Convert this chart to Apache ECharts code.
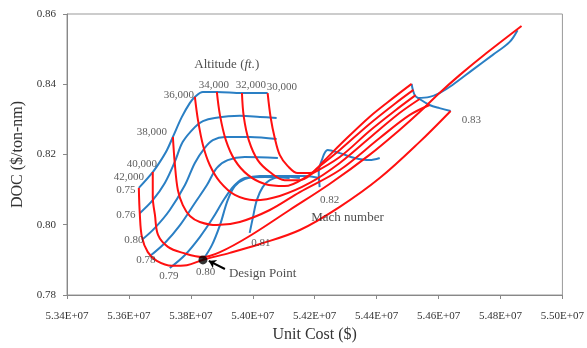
<!DOCTYPE html>
<html>
<head>
<meta charset="utf-8">
<script src="https://cdn.jsdelivr.net/npm/echarts@6/dist/echarts.min.js"></script>
<style>
  html, body { margin: 0; padding: 0; background: #fff; }
  #chart { width: 587px; height: 348px; }
</style>
</head>
<body>
<div id="chart"></div>
<script>
// Unit cost in units of 1e7 $, DOC in $/ton-nm

// Constant-Mach lines (blue), from 42,000 ft towards 30,000 ft
const mach075 = [[5.3632,0.8105],[5.3677,0.8150],[5.3700,0.8179],[5.3723,0.8213],[5.3742,0.8250],[5.3771,0.8307],[5.3797,0.8347],[5.3813,0.8364],[5.3839,0.8378],[5.3884,0.8378],[5.3965,0.8375],[5.4048,0.8375]];
const mach076 = [[5.3635,0.8033],[5.3677,0.8070],[5.3716,0.8119],[5.3748,0.8179],[5.3774,0.8236],[5.3813,0.8278],[5.3839,0.8295],[5.3877,0.8304],[5.3958,0.8310],[5.4023,0.8307],[5.4077,0.8304]];
const mach077 = [[5.3642,0.7957],[5.3684,0.7991],[5.3732,0.8042],[5.3781,0.8113],[5.3813,0.8176],[5.3845,0.8219],[5.3871,0.8241],[5.3910,0.8250],[5.3990,0.8250],[5.4077,0.8244]];
const mach078 = [[5.3668,0.7911],[5.3716,0.7948],[5.3765,0.7999],[5.3813,0.8062],[5.3852,0.8113],[5.3884,0.8162],[5.3919,0.8184],[5.3974,0.8193],[5.4081,0.8190]];
const mach079 = [[5.3732,0.7877],[5.3781,0.7914],[5.3829,0.7965],[5.3871,0.8019],[5.3910,0.8076],[5.3942,0.8113],[5.3974,0.8133],[5.4039,0.8136],[5.4119,0.8133]];
const mach080 = [[5.3839,0.7900],[5.3868,0.7942],[5.3894,0.7999],[5.3919,0.8070],[5.3942,0.8110],[5.3974,0.8130],[5.4023,0.8139],[5.4087,0.8139],[5.4152,0.8133]];
const mach081 = [[5.3990,0.7977],[5.4000,0.8019],[5.4013,0.8070],[5.4032,0.8107],[5.4055,0.8127],[5.4103,0.8139],[5.4168,0.8139],[5.4216,0.8133]];
const mach082 = [[5.4216,0.8107],[5.4213,0.8150],[5.4223,0.8184],[5.4242,0.8213],[5.4281,0.8204],[5.4329,0.8190],[5.4377,0.8184],[5.4410,0.8190]];
const mach083 = [[5.4513,0.8401],[5.4523,0.8369],[5.4539,0.8358],[5.4571,0.8341],[5.4603,0.8332],[5.4639,0.8324]];
const mach083b = [[5.4532,0.8361],[5.4571,0.8364],[5.4603,0.8375],[5.4645,0.8398],[5.4710,0.8441],[5.4774,0.8483],[5.4829,0.8520],[5.4855,0.8554]];

// Constant-altitude lines (red), Mach 0.75 upwards
const alt42 = [[5.3632,0.8105],[5.3635,0.8033],[5.3642,0.7965],[5.3661,0.7922],[5.3690,0.7897],[5.3739,0.7883],[5.3787,0.7885],[5.3839,0.7900],[5.3926,0.7920],[5.4023,0.7945],[5.4152,0.7985],[5.4281,0.8051],[5.4410,0.8133],[5.4539,0.8236],[5.4639,0.8324]];
const alt40 = [[5.3677,0.8150],[5.3677,0.8079],[5.3684,0.8028],[5.3694,0.7971],[5.3726,0.7937],[5.3774,0.7920],[5.3839,0.7908],[5.3894,0.7922],[5.3990,0.7968],[5.4119,0.8042],[5.4248,0.8116],[5.4377,0.8199],[5.4474,0.8270],[5.4539,0.8321],[5.4603,0.8375],[5.4668,0.8426],[5.4755,0.8489],[5.4868,0.8566]];
const alt38 = [[5.3742,0.8250],[5.3748,0.8176],[5.3758,0.8099],[5.3774,0.8056],[5.3797,0.8025],[5.3829,0.8008],[5.3884,0.7999],[5.3958,0.8008],[5.4055,0.8042],[5.4152,0.8093],[5.4281,0.8156],[5.4410,0.8247],[5.4506,0.8312],[5.4571,0.8341]];
const alt36 = [[5.3813,0.8364],[5.3823,0.8298],[5.3839,0.8227],[5.3861,0.8170],[5.3894,0.8122],[5.3942,0.8085],[5.4006,0.8070],[5.4087,0.8082],[5.4184,0.8119],[5.4281,0.8176],[5.4377,0.8247],[5.4474,0.8318],[5.4539,0.8358]];
const alt34 = [[5.3884,0.8378],[5.3894,0.8312],[5.3913,0.8241],[5.3942,0.8184],[5.3984,0.8142],[5.4039,0.8116],[5.4103,0.8110],[5.4184,0.8142],[5.4281,0.8193],[5.4377,0.8267],[5.4458,0.8324],[5.4526,0.8369]];
const alt32 = [[5.3965,0.8375],[5.3971,0.8307],[5.3987,0.8241],[5.4016,0.8184],[5.4055,0.8150],[5.4103,0.8127],[5.4152,0.8127],[5.4216,0.8167],[5.4281,0.8213],[5.4377,0.8287],[5.4458,0.8344],[5.4519,0.8384]];
const alt30 = [[5.4048,0.8375],[5.4058,0.8304],[5.4071,0.8247],[5.4087,0.8199],[5.4113,0.8167],[5.4145,0.8147],[5.4184,0.8147],[5.4232,0.8184],[5.4281,0.8227],[5.4377,0.8307],[5.4458,0.8364],[5.4513,0.8401]];

const designPoint = [5.3839, 0.7900];

// Text annotations: [text, x, y]
const altitudeLabels = [['36,000',5.3761,0.8369],['34,000',5.3874,0.8398],['32,000',5.3994,0.8398],['30,000',5.4094,0.8392],['38,000',5.3674,0.8264],['40,000',5.3642,0.8173],['42,000',5.3600,0.8136]];
const machLabels = [['0.75',5.3590,0.8099],['0.76',5.3590,0.8028],['0.80',5.3616,0.7957],['0.78',5.3655,0.7900],['0.79',5.3729,0.7854],['0.80',5.3848,0.7865],['0.81',5.4026,0.7948],['0.82',5.4248,0.8070],['0.83',5.4706,0.8298]];

const xTicks = { min: 5.34, max: 5.50, step: 0.02 };
const yTicks = { min: 0.78, max: 0.86, step: 0.02 };

const SERIF = '"Liberation Serif", "DejaVu Serif", serif';
const BLUE = '#2a7fc4';
const RED = '#ff1010';
const scale = a => a.map(p => [p[0] * 1e7, p[1]]);

function curve(data, color) {
  return {
    type: 'line', data: scale(data), symbol: 'none', smooth: 0.35,
    lineStyle: { color: color, width: 2 }, silent: true, animation: false, z: color === RED ? 3 : 2
  };
}
function textSeries(items, extra) {
  return {
    type: 'scatter', symbolSize: 0, silent: true, animation: false, z: 5,
    data: items.map(t => ({ value: [t[1] * 1e7, t[2]], label: Object.assign({ show: true, formatter: t[0], position: 'inside', color: '#333', fontFamily: SERIF, fontSize: 11 }, extra || {}) }))
  };
}

const chart = echarts.init(document.getElementById('chart'), null, { renderer: 'canvas' });
chart.setOption({
  animation: false,
  grid: { left: 67, right: 24, top: 14, bottom: 53, show: true, borderColor: '#999', borderWidth: 1 },
  xAxis: {
    type: 'value', min: xTicks.min * 1e7, max: xTicks.max * 1e7, interval: xTicks.step * 1e7,
    name: 'Unit Cost ($)', nameLocation: 'middle', nameGap: 32,
    nameTextStyle: { fontFamily: SERIF, fontSize: 16, color: '#333' },
    axisLine: { lineStyle: { color: '#888' } },
    axisTick: { length: 4, lineStyle: { color: '#888' } },
    splitLine: { show: false },
    axisLabel: { fontFamily: SERIF, fontSize: 11, color: '#333', margin: 16,
      formatter: v => (v / 1e7).toFixed(2) + 'E+07' }
  },
  yAxis: {
    type: 'value', min: yTicks.min, max: yTicks.max, interval: yTicks.step,
    name: 'DOC ($/ton-nm)', nameLocation: 'middle', nameGap: 37, nameRotate: 90,
    nameTextStyle: { fontFamily: SERIF, fontSize: 16, color: '#333' },
    axisLine: { show: true, lineStyle: { color: '#888' } },
    axisTick: { show: true, length: 4, lineStyle: { color: '#888' } },
    splitLine: { show: false },
    axisLabel: { fontFamily: SERIF, fontSize: 11, color: '#333', margin: 11, formatter: v => v.toFixed(2) }
  },
  series: [
    curve(mach075, BLUE), curve(mach076, BLUE), curve(mach077, BLUE), curve(mach078, BLUE),
    curve(mach079, BLUE), curve(mach080, BLUE), curve(mach081, BLUE), curve(mach082, BLUE),
    curve(mach083, BLUE), curve(mach083b, BLUE),
    curve(alt42, RED), curve(alt40, RED), curve(alt38, RED), curve(alt36, RED),
    curve(alt34, RED), curve(alt32, RED), curve(alt30, RED),
    textSeries(altitudeLabels),
    textSeries(machLabels),
    {
      type: 'scatter', silent: true, animation: false, z: 6,
      data: [{ value: [designPoint[0] * 1e7, designPoint[1]] }],
      symbolSize: 9, itemStyle: { color: '#000' },
      markLine: {
        silent: true, animation: false, symbol: ['none', 'arrow'], symbolSize: 7,
        lineStyle: { color: '#000', width: 2, type: 'solid' }, label: { show: false },
        data: [[{ coord: [5.3910e7, 0.7874] }, { coord: [5.3858e7, 0.7897] }]]
      }
    },
    textSeries([['Design Point', 5.4032, 0.7862]], { fontSize: 13, color: '#222' }),
    textSeries([['Mach number', 5.4306, 0.8019]], { fontSize: 13, color: '#222' }),
    {
      type: 'scatter', symbolSize: 0, silent: true, animation: false, z: 5,
      data: [{ value: [5.3916e7, 0.8455], label: { show: true, position: 'inside', fontFamily: SERIF, fontSize: 13, color: '#222',
        formatter: 'Altitude ({i|ft.})', rich: { i: { fontStyle: 'italic', fontFamily: SERIF, fontSize: 13, color: '#222' } } } }]
    }
  ]
});
</script>
</body>
</html>
